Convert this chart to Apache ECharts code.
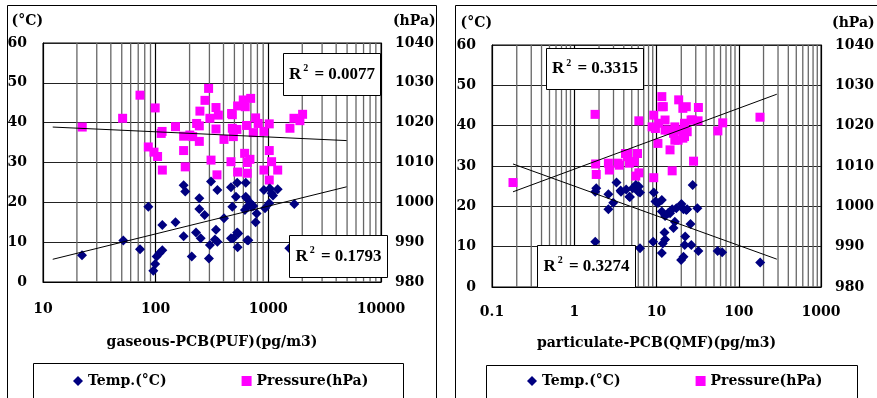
<!DOCTYPE html>
<html>
<head>
<meta charset="utf-8">
<script src="https://cdn.jsdelivr.net/npm/echarts@6/dist/echarts.min.js"></script>
<style>
  html, body { margin: 0; padding: 0; background: #fff; }
  #chart { width: 877px; height: 398px; }
</style>
</head>
<body>
<div id="chart"></div>
<script>
// gaseous-PCB (PUF), pg/m3 vs temperature / pressure
var gasTemp = [
  [22.2, 6.7], [51.6, 10.4], [72.6, 8.2], [86, 18.9], [95.3, 2.8], [99, 4.5], [102, 6.4],
  [108, 7.2], [114.5, 8.0], [114.5, 14.3], [150, 15.0], [177, 11.5], [183, 22.7], [177, 24.3],
  [209, 6.4], [228, 12.4], [244, 21.0], [244, 18.3], [251, 11.0], [272, 16.8], [297, 5.9],
  [303, 9.3], [310, 25.2], [336, 10.7], [343, 13.1], [353, 10.1], [353, 23.1], [404, 16.0],
  [466, 11.0], [466, 23.8], [479, 18.9], [516, 21.4], [529, 24.9], [529, 12.4], [534, 8.7],
  [620, 18.1], [630, 21.4], [630, 24.9], [650, 18.9], [664, 10.5], [697, 19.8], [735, 19.1],
  [787, 17.2], [771, 15.0], [914, 23.1], [934, 18.5], [1019, 19.8], [1069, 22.3], [1211, 23.3],
  [1100, 21.7], [1700, 19.6], [1535, 8.5], [711, 18.9], [641, 21.0], [1032, 23.5], [541, 12.2],
  [489, 11.0], [650, 10.5]
];
var gasPres = [
  [22.3, 1018.9], [50.9, 1021.1], [72.6, 1026.9], [99, 1023.7], [112, 1017.3], [114, 1017.8],
  [86, 1013.9], [96.6, 1012.6], [104, 1011.5], [114.6, 1008.1], [150, 1019.0], [177, 1016.6],
  [177, 1013.0], [183, 1008.9], [213, 1016.5], [231, 1019.8], [244, 1019.2], [244, 1015.3],
  [247, 1022.9], [274, 1025.6], [295, 1028.6], [303, 1021.1], [310, 1010.6], [343, 1018.4],
  [343, 1023.8], [360, 1021.9], [350, 1006.9], [404, 1015.8], [466, 1010.2], [479, 1022.0],
  [479, 1018.6], [489, 1016.5], [526, 1018.3], [534, 1024.2], [534, 1007.6], [599, 1025.7],
  [616, 1012.3], [624, 1024.0], [641, 1019.3], [650, 1007.3], [650, 1010.0], [687, 1010.8],
  [697, 1026.1], [735, 1017.5], [771, 1021.2], [813, 1019.8], [914, 1017.8], [914, 1008.1],
  [1019, 1019.7], [1019, 1013.0], [1069, 1010.2], [1019, 1005.6], [1211, 1008.1], [1556, 1018.6],
  [1688, 1021.1], [1906, 1020.5], [2014, 1022.1], [201, 1016.9], [472, 1022.3]
];
var gasTempTrend = [[12.2, 5.7], [4955, 23.9]];
var gasPresTrend = [[12.2, 1018.9], [4955, 1015.5]];
var gasR2 = ['0.0077', '0.1793'];
var gasMinor = [20, 30, 40, 50, 60, 70, 80, 90, 200, 300, 400, 500, 600, 700, 800, 900,
  2000, 3000, 4000, 5000, 6000, 7000, 8000, 9000];

// particulate-PCB (QMF), pg/m3 vs temperature / pressure
var partTemp = [
  [1.85, 24.5], [2.6, 23.0], [3.26, 25.9], [3.66, 23.9], [4.28, 24.2], [5.13, 24.5], [5.6, 25.3],
  [6.0, 23.6], [4.68, 22.4], [9.25, 23.4], [11.6, 21.6], [27.5, 25.3], [1.8, 23.6], [2.6, 19.3],
  [2.98, 20.9], [3.7, 23.6], [4.75, 22.3], [6.3, 23.4], [9.7, 21.2], [10.4, 20.8], [11.6, 18.7],
  [12.7, 17.6], [13.9, 18.4], [15.5, 19.3], [16.1, 14.6], [16.7, 16.2], [20.1, 20.6], [21.3, 19.3],
  [23.6, 19.3], [31.4, 19.5], [25.9, 15.6], [12.5, 13.5], [12.7, 11.8], [11.9, 10.8], [11.6, 8.4],
  [9.1, 11.2], [6.3, 9.6], [1.8, 11.2], [22.3, 12.5], [22.0, 10.4], [26.5, 10.4], [19.9, 6.7],
  [21.3, 7.5], [32.3, 8.9], [55.3, 8.9], [62.8, 8.6], [182, 6.1], [14.6, 18.3], [17.4, 19.5],
  [23, 19.1], [6.1, 24.9]
];
var partPres = [
  [0.18, 1005.9], [1.79, 1022.8], [1.82, 1010.5], [1.85, 1007.9], [2.6, 1010.7], [2.67, 1009.0],
  [3.41, 1010.7], [4.48, 1013.1], [4.68, 1010.7], [5.36, 1011.1], [5.6, 1007.5], [5.87, 1013.1],
  [6.1, 1008.3], [6.1, 1021.2], [9.25, 1007.1], [9.25, 1022.6], [9.7, 1019.3], [10.4, 1015.6],
  [11.6, 1027.2], [12.1, 1024.7], [12.7, 1021.4], [13.9, 1018.9], [14.6, 1014.0], [15.5, 1008.8],
  [16.1, 1018.1], [16.7, 1016.4], [18.6, 1026.4], [19.6, 1018.9], [20.9, 1024.3], [20.9, 1016.9],
  [23.6, 1018.5], [26.3, 1021.4], [28.2, 1011.2], [32, 1021.2], [32.3, 1024.5], [55.7, 1018.7],
  [63.8, 1020.7], [181, 1022.1], [11.6, 1024.7], [23, 1024.7], [8.85, 1019.7], [10.6, 1020.6],
  [12.7, 1018.9], [16.7, 1019.7], [21.9, 1020.6], [27.3, 1021.4], [18.3, 1016.4], [21.9, 1017.3],
  [3.53, 1010.2], [4.43, 1012.3], [4.2, 1013.1]
];
var partTempTrend = [[0.18, 30.5], [290, 6.9]];
var partPresTrend = [[0.18, 1003.6], [290, 1027.8]];
var partR2 = ['0.3315', '0.3274'];
var partMinor = [0.2, 0.3, 0.4, 0.5, 0.6, 0.7, 0.8, 0.9, 2, 3, 4, 5, 6, 7, 8, 9,
  20, 30, 40, 50, 60, 70, 80, 90, 200, 300, 400, 500, 600, 700, 800, 900];

var FONT = 'DejaVu Serif';
var lbl = { color: '#000', fontFamily: FONT, fontWeight: 'bold', fontSize: 14 };

function xAx(idx, min, max, name, margin, gap) {
  return {
    type: 'log', gridIndex: idx, min: min, max: max, logBase: 10,
    name: name, nameLocation: 'middle', nameGap: gap,
    nameTextStyle: lbl,
    axisLine: { lineStyle: { color: '#000', width: 1 } },
    axisTick: { show: false },
    axisLabel: Object.assign({ margin: margin, formatter: function (v) { return String(+v.toPrecision(6)); } }, lbl),
    splitLine: { show: true, lineStyle: { color: '#000', width: 1.2 } }
  };
}
function yAx(idx, pos, min, max, name, split, namePad) {
  return {
    type: 'value', gridIndex: idx, position: pos, min: min, max: max, interval: 10,
    name: name, nameLocation: 'end', nameGap: 15,
    nameTextStyle: Object.assign({ align: pos === 'left' ? 'right' : 'left',
      padding: [0, 0, 0, namePad] }, lbl),
    axisLine: { show: true, lineStyle: { color: '#000', width: 1 } },
    axisTick: { show: false },
    axisLabel: Object.assign({ margin: pos === 'left' ? 16 : 14, formatter: function (v) { return String(v); } }, lbl),
    splitLine: { show: split, lineStyle: { color: '#222', width: 1.2 } }
  };
}
// minor (2..9) vertical grid lines of the log axis, spanning the temperature range 0..60
function minorGrid(xi, yi, ticks) {
  return ticks.map(function (v) {
    return { type: 'line', xAxisIndex: xi, yAxisIndex: yi, data: [[v, 0], [v, 60]],
      symbol: 'none', silent: true, z: 1, lineStyle: { color: '#666', width: 1.3 } };
  });
}
function trend(xi, yi, data) {
  return { type: 'line', xAxisIndex: xi, yAxisIndex: yi, data: data, symbol: 'none', silent: true,
    lineStyle: { color: '#000', width: 1 }, z: 5 };
}
function r2Box(x, y, w, h, val) {
  return [
    { type: 'rect', z: 100, shape: { x: x, y: y, width: w, height: h },
      style: { fill: '#fff', stroke: '#000', lineWidth: 1 } },
    { type: 'text', z: 101, x: x + w / 2, y: y + h / 2,
      style: { text: '{r|R}{s|2}{r| = ' + val + '}', align: 'center', verticalAlign: 'middle',
        rich: {
          r: { fontFamily: 'Liberation Serif', fontWeight: 'bold', fontSize: 17, fill: '#000' },
          s: { fontFamily: 'Liberation Serif', fontWeight: 'bold', fontSize: 10, fill: '#000', padding: [0, 2, 12, 2] }
        } } }
  ];
}

var chart = echarts.init(document.getElementById('chart'));
chart.setOption({
  backgroundColor: '#fff',
  animation: false,
  grid: [
    { left: 43, right: 496, top: 43, bottom: 116, show: true, borderColor: '#000', borderWidth: 1 },
    { left: 492, right: 47, top: 45, bottom: 111, show: true, borderColor: '#000', borderWidth: 1 }
  ],
  xAxis: [
    xAx(0, 10, 10000, 'gaseous-PCB(PUF)(pg/m3)', 20, 53),
    xAx(1, 0.1, 1000, 'particulate-PCB(QMF)(pg/m3)', 18, 49)
  ],
  yAxis: [
    yAx(0, 'left', 0, 60, '(°C)', true, 0),
    yAx(0, 'right', 980, 1040, '(hPa)', false, 12),
    yAx(1, 'left', 0, 60, '(°C)', true, 0),
    yAx(1, 'right', 980, 1040, '(hPa)', false, 11)
  ],
  legend: [
    { left: 68, top: 369, itemGap: 75, itemWidth: 10, itemHeight: 10, textStyle: lbl,
      data: ['Temp.(°C)', 'Pressure(hPa)'] },
    { left: 522, top: 369, itemGap: 75, itemWidth: 10, itemHeight: 10, textStyle: lbl,
      data: ['Temp.(°C)', 'Pressure(hPa)'] }
  ],
  series: [].concat(
    minorGrid(0, 0, gasMinor),
    minorGrid(1, 2, partMinor),
    [
      { name: 'Pressure(hPa)', type: 'scatter', xAxisIndex: 0, yAxisIndex: 1, data: gasPres, z: 3,
        symbol: 'rect', symbolSize: 9, itemStyle: { color: '#FF00FF', opacity: 1 } },
      { name: 'Temp.(°C)', type: 'scatter', xAxisIndex: 0, yAxisIndex: 0, data: gasTemp, z: 3,
        symbol: 'diamond', symbolSize: 10, itemStyle: { color: '#000080', opacity: 1 } },
      trend(0, 0, gasTempTrend),
      trend(0, 1, gasPresTrend),
      { name: 'Pressure(hPa)', type: 'scatter', xAxisIndex: 1, yAxisIndex: 3, data: partPres, z: 3,
        symbol: 'rect', symbolSize: 9, itemStyle: { color: '#FF00FF', opacity: 1 } },
      { name: 'Temp.(°C)', type: 'scatter', xAxisIndex: 1, yAxisIndex: 2, data: partTemp, z: 3,
        symbol: 'diamond', symbolSize: 10, itemStyle: { color: '#000080', opacity: 1 } },
      trend(1, 2, partTempTrend),
      trend(1, 3, partPresTrend)
    ]
  ),
  graphic: [
    { type: 'rect', z: -10, silent: true, shape: { x: 7.5, y: 5.5, width: 429, height: 420 },
      style: { fill: 'none', stroke: '#000', lineWidth: 1 } },
    { type: 'rect', z: -10, silent: true, shape: { x: 455.5, y: 5.5, width: 450, height: 420 },
      style: { fill: 'none', stroke: '#000', lineWidth: 1 } },
    { type: 'rect', z: -10, silent: true, shape: { x: 33.5, y: 363.5, width: 370, height: 60 },
      style: { fill: 'none', stroke: '#000', lineWidth: 1 } },
    { type: 'rect', z: -10, silent: true, shape: { x: 486.5, y: 365.5, width: 371, height: 60 },
      style: { fill: 'none', stroke: '#000', lineWidth: 1 } }
  ].concat(
    r2Box(283.5, 53.5, 97, 42, gasR2[0]),
    r2Box(289.5, 235.5, 98, 42, gasR2[1]),
    r2Box(546.5, 48.5, 97, 41, partR2[0]),
    r2Box(537.5, 245.5, 98, 42, partR2[1])
  )
});
</script>
</body>
</html>
